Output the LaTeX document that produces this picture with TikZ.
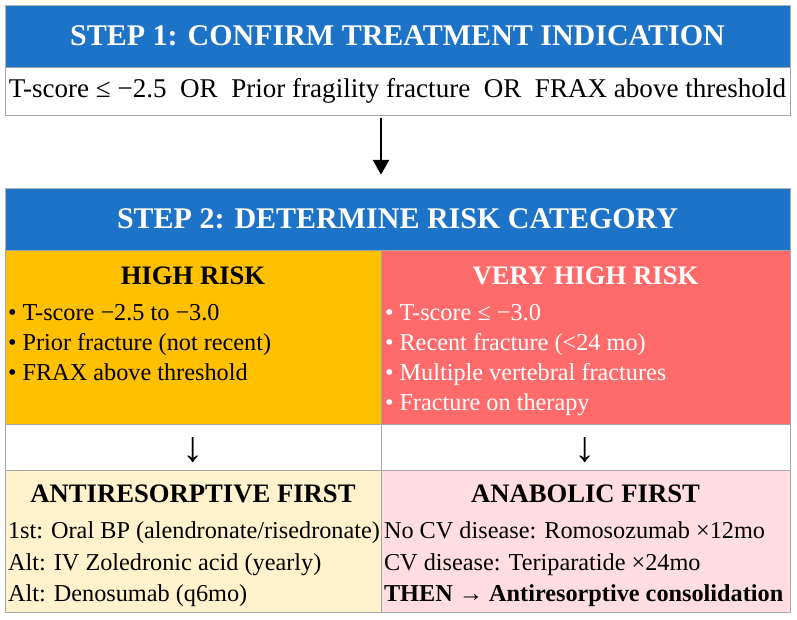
\documentclass[tikz,border=0pt]{standalone}
\usepackage{fontspec}
\setmainfont{LiberationSerif}[Extension=.ttf, UprightFont=*-Regular, BoldFont=*-Bold, ItalicFont=*-Italic, BoldItalicFont=*-BoldItalic]
\usetikzlibrary{positioning,arrows.meta}
\definecolor{stepblue}{RGB}{28,115,199}
\definecolor{highgold}{RGB}{255,192,0}
\definecolor{veryred}{RGB}{255,107,107}
\definecolor{antiyellow}{RGB}{255,242,204}
\definecolor{anapink}{RGB}{255,221,224}

\begin{document}
\begin{tikzpicture}[
  every node/.style={inner sep=0pt, outer sep=0pt},
  stephead/.style={draw=gray!60, fill=stepblue, text=white, font=\fontsize{22.5}{27}\selectfont\bfseries, minimum width=588.75pt, minimum height=46.5pt},
  cellbox/.style={draw=gray!70, minimum height=#1},
  cellhead/.style={font=\fontsize{20}{24}\selectfont\bfseries},
  risklist/.style={align=left, anchor=north west, font=\fontsize{18.2}{22.7}\selectfont},
  druglist/.style={align=left, anchor=north west, font=\fontsize{18.2}{23.6}\selectfont}
]
  \useasboundingbox (0,0) rectangle (597.75pt,-465pt);

  \node[stephead, anchor=north west] (step1) at (3.75pt,-3.75pt) {STEP 1: CONFIRM TREATMENT INDICATION};
  \node[cellbox=36pt, minimum width=588.75pt, below=0pt of step1, font=\fontsize{20.3}{24}\selectfont] (criteria) {T-score ≤ −2.5\ \ OR\ \ Prior fragility fracture\ \ OR\ \ FRAX above threshold};

  \node[stephead, below=54.75pt of criteria] (step2) {STEP 2: DETERMINE RISK CATEGORY};
  \node[cellbox=130.5pt, minimum width=282pt, fill=highgold, below right=0pt and 0pt of step2.south west] (high) {};
  \node[cellbox=130.5pt, minimum width=306.75pt, fill=veryred, right=0pt of high] (veryhigh) {};
  \node[cellbox=34.5pt, minimum width=282pt, fill=white, below=0pt of high] (arrowleft) {};
  \node[cellbox=34.5pt, minimum width=306.75pt, fill=white, below=0pt of veryhigh] (arrowright) {};
  \node[cellbox=106.5pt, minimum width=282pt, fill=antiyellow, below=0pt of arrowleft] (anti) {};
  \node[cellbox=106.5pt, minimum width=306.75pt, fill=anapink, below=0pt of arrowright] (ana) {};

  \node[cellhead, below=19.5pt of high.north, anchor=center] (highhead) {HIGH RISK};
  \node[cellhead, text=white, below=19.5pt of veryhigh.north, anchor=center] (veryhead) {VERY HIGH RISK};
  \node[risklist] (highlist) at ([xshift=2.25pt, yshift=-40.5pt]high.north west) {• T-score −2.5 to −3.0\\• Prior fracture (not recent)\\• FRAX above threshold};
  \node[risklist, text=white] (verylist) at ([xshift=3pt, yshift=-40.5pt]veryhigh.north west) {• T-score ≤ −3.0\\• Recent fracture (<24 mo)\\• Multiple vertebral fractures\\• Fracture on therapy};

  \node[font=\fontsize{32}{36}\selectfont] (downleft) at ([yshift=-2.5pt]arrowleft) {↓};
  \node[font=\fontsize{32}{36}\selectfont] (downright) at ([yshift=-2.5pt]arrowright) {↓};

  \node[cellhead, below=18pt of anti.north, anchor=center] (antihead) {ANTIRESORPTIVE FIRST};
  \node[cellhead, below=18pt of ana.north, anchor=center] (anahead) {ANABOLIC FIRST};
  \node[druglist] (antilist) at ([xshift=2.25pt, yshift=-39pt]anti.north west) {1st: Oral BP (alendronate/risedronate)\\Alt: IV Zoledronic acid (yearly)\\Alt: Denosumab (q6mo)};
  \node[druglist] (analist) at ([xshift=2.25pt, yshift=-39pt]ana.north west) {No CV disease: Romosozumab ×12mo\\CV disease: Teriparatide ×24mo\\\textbf{THEN → Antiresorptive consolidation}};

  \draw[-{Triangle[length=11pt, width=12pt]}, line width=1.5pt, shorten <=2pt, shorten >=10pt] (criteria.south -| high.east) -- (step2.north -| high.east);
\end{tikzpicture}
\end{document}
